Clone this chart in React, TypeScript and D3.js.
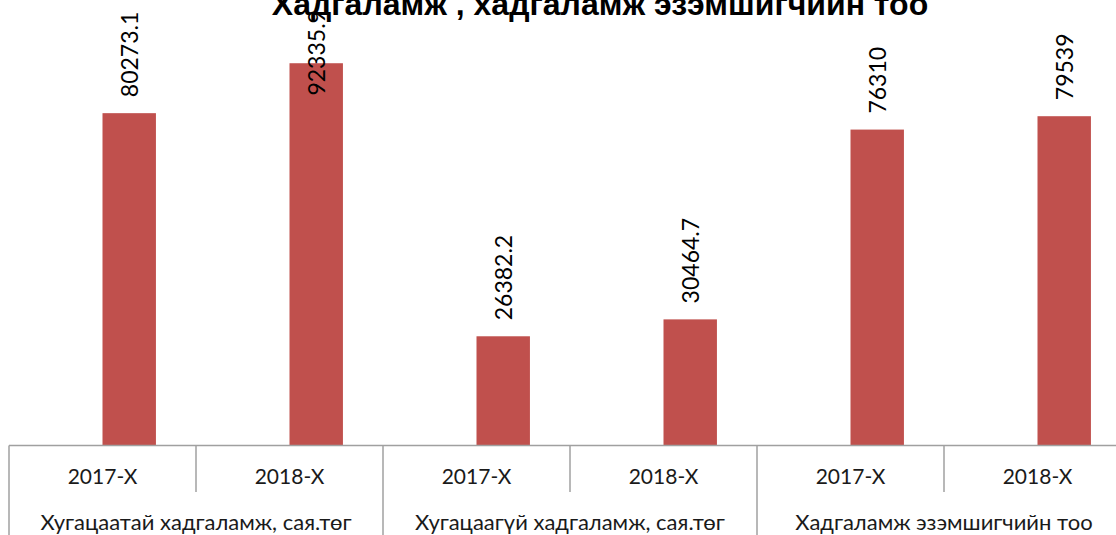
import React from "react";
import * as d3 from "d3";

const title = "Хадгаламж , хадгаламж эзэмшигчийн тоо";
const groups = [
  "Хугацаатай хадгаламж, сая.төг",
  "Хугацаагүй хадгаламж, сая.төг",
  "Хадгаламж эзэмшигчийн тоо",
];
const periods = ["2017-X", "2018-X"];
const values = [80273.1, 92335.9, 26382.2, 30464.7, 76310, 79539];
const valueLabels = ["80273.1", "92335.9", "26382.2", "30464.7", "76310", "79539"];
const yTicks = [0, 100000];

const W = 1116;
const H = 535;
const left = 9;
const right = 1131;
const baseY = 445.5;
const topY = 31.5;

export default function App() {
  const keys = groups.flatMap((g, gi) => periods.map((p, pi) => `${gi}-${pi}`));
  const x = d3.scaleBand<string>().domain(keys).range([left, right]).padding(0);
  const y = d3.scaleLinear().domain([yTicks[0], yTicks[1]]).range([baseY, topY]);
  const bw = x.bandwidth();
  const barW = bw / 3.5;
  const fontLabel = "Lato, 'Open Sans', sans-serif";
  const labelSize = 23;
  const charW = (s: string) =>
    s.split("").reduce((a, c) => a + (c === "." ? 0.24 : 0.58), 0) * labelSize;

  return (
    <svg
      width={W}
      height={H}
      style={{ position: "absolute", left: 0, top: 0, background: "#fff" }}
    >
      {values.map((v, i) => {
        const k = keys[i];
        const bx = (x(k) as number) + bw / 2;
        const top = y(v);
        const cx = bx + barW / 2;
        const len = charW(valueLabels[i]);
        const ly = Math.max(top - 16, 10 + len);
        return (
          <g key={k}>
            <rect x={bx} y={top} width={barW} height={baseY - top} fill="#C0504D" />
            <text
              transform={`translate(${cx},${ly}) rotate(-90)`}
              textAnchor="start"
              dominantBaseline="central"
              fontFamily={fontLabel}
              fontSize={labelSize}
              fill="#000"
            >
              {valueLabels[i]}
            </text>
          </g>
        );
      })}
      <text
        x={600}
        y={15}
        textAnchor="middle"
        fontFamily="'Liberation Sans Narrow', 'Liberation Sans', Arial, sans-serif"
        fontWeight="bold"
        fontSize={32}
        fill="#000"
      >
        {title}
      </text>
      <line x1={left} x2={W} y1={baseY} y2={baseY} stroke="#A0A0A0" strokeWidth={1.5} />
      {keys.map((k, i) => {
        const x0 = x(k) as number;
        const full = i % 2 === 0;
        return (
          <line
            key={"v" + k}
            x1={x0}
            x2={x0}
            y1={baseY}
            y2={full ? H : 492}
            stroke="#A0A0A0"
            strokeWidth={1.5}
          />
        );
      })}
      {keys.map((k, i) => (
        <text
          key={"p" + k}
          x={(x(k) as number) + bw / 2}
          y={484}
          textAnchor="middle"
          fontFamily={fontLabel}
          fontSize={21}
          fill="#1a1a1a"
        >
          {periods[i % 2]}
        </text>
      ))}
      {groups.map((g, gi) => (
        <text
          key={"g" + gi}
          x={(x(`${gi}-0`) as number) + bw}
          y={530}
          textAnchor="middle"
          fontFamily={fontLabel}
          fontSize={22}
          fill="#1a1a1a"
        >
          {g}
        </text>
      ))}
    </svg>
  );
}
